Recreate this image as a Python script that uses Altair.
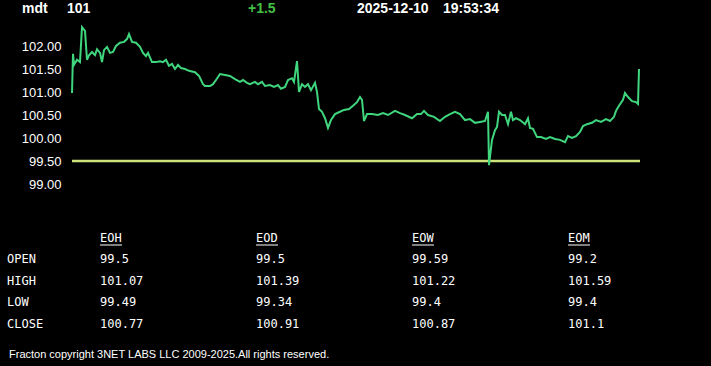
import altair as alt
import pandas as pd

# ---- data ----
t = [0, 1, 2, 5, 8, 10, 13, 15, 17, 20, 23, 25, 28, 30, 32, 35, 38, 41, 44, 48,
     52, 55, 57, 60, 64, 68, 71, 74, 76, 80, 84, 88, 91, 94, 97, 100, 103, 106, 109, 113,
     117, 123, 127, 131, 133, 138, 141, 144, 148, 153, 158, 163, 168, 171, 175, 178, 183, 186, 190, 193,
     198, 202, 206, 209, 213, 216, 220, 222, 225, 227, 230, 233, 236, 239, 243, 245, 247, 250, 253, 256,
     259, 263, 268, 272, 277, 281, 285, 288, 290, 292, 295, 300, 306, 311, 316, 323, 328, 333, 340, 345,
     349, 352, 356, 362, 368, 373, 378, 383, 388, 393, 398, 403, 408, 413, 416, 417, 420, 423, 425, 427,
     430, 433, 436, 439, 441, 444, 448, 453, 456, 458, 461, 465, 469, 474, 478, 483, 488, 493, 496, 500,
     504, 508, 511, 515, 520, 524, 529, 534, 538, 542, 544, 547, 551, 553, 556, 560, 564, 566, 567]
price = [100.98, 101.83, 101.59, 101.70, 101.65, 102.41, 102.33, 101.70, 101.80, 101.87, 101.80, 101.93, 101.85, 101.65, 101.91, 101.98, 101.85, 101.87, 102.00, 102.07,
         102.09, 102.15, 102.26, 102.09, 102.07, 101.98, 101.85, 101.78, 101.85, 101.65, 101.65, 101.67, 101.65, 101.70, 101.57, 101.61, 101.50, 101.59, 101.52, 101.50,
         101.46, 101.43, 101.35, 101.17, 101.13, 101.13, 101.17, 101.26, 101.39, 101.37, 101.35, 101.28, 101.22, 101.26, 101.20, 101.17, 101.22, 101.17, 101.22, 101.13,
         101.15, 101.11, 101.15, 101.07, 101.11, 101.26, 101.30, 101.22, 101.67, 101.00, 101.17, 101.11, 101.17, 101.04, 101.20, 101.00, 100.63, 100.57, 100.43, 100.22,
         100.39, 100.52, 100.57, 100.61, 100.63, 100.70, 100.78, 100.89, 100.83, 100.37, 100.52, 100.52, 100.50, 100.54, 100.50, 100.59, 100.54, 100.50, 100.43, 100.52,
         100.52, 100.59, 100.50, 100.46, 100.37, 100.46, 100.52, 100.57, 100.52, 100.39, 100.41, 100.33, 100.35, 100.37, 100.57, 99.41, 99.96, 100.17, 100.24, 100.57,
         100.50, 100.50, 100.30, 100.57, 100.39, 100.43, 100.39, 100.30, 100.43, 100.22, 100.20, 100.02, 100.02, 99.98, 100.02, 99.98, 99.96, 99.91, 100.04, 100.00,
         100.04, 100.13, 100.26, 100.30, 100.33, 100.39, 100.35, 100.41, 100.37, 100.46, 100.59, 100.70, 100.83, 100.98, 100.89, 100.80, 100.78, 100.74, 101.50]
ref_level = 99.5
ref_span = [0, 568]
y_ticks = [99.0, 99.5, 100.0, 100.5, 101.0, 101.5, 102.0]

header_texts = ["mdt", "101", "+1.5", "2025-12-10", "19:53:34"]
footer_text = "Fracton copyright 3NET LABS LLC 2009-2025.All rights reserved."

col_names = ["EOH", "EOD", "EOW", "EOM"]
row_names = ["OPEN", "HIGH", "LOW", "CLOSE"]
open_vals = ["99.5", "99.5", "99.59", "99.2"]
high_vals = ["101.07", "101.39", "101.22", "101.59"]
low_vals = ["99.49", "99.34", "99.4", "99.4"]
close_vals = ["100.77", "100.91", "100.87", "101.1"]

# ---- layout ----
PL, PT, W, H = 72, 23, 568, 184
header_x = [22, 67, 248, 357, 443]
header_colors = ["white", "white", "#44c044", "white", "white"]
col_x = [100, 256, 412, 568]
row_label_x = 7
head_y = 238
row_y = [259, 281, 302, 324]

LINE = "#3fd67e"
YEL = "#cfe37c"

df = pd.DataFrame({"t": t, "price": price})
ref_df = pd.DataFrame({"t": [ref_span[0]], "t2": [ref_span[1]], "y": [ref_level]})

xs = alt.Scale(domain=[0, 568])
ys = alt.Scale(domain=[98.5, 102.5], zero=False, nice=False)

line = alt.Chart(df).mark_line(color=LINE, strokeWidth=2, clip=False).encode(
    x=alt.X("t:Q", scale=xs, axis=None),
    y=alt.Y("price:Q", scale=ys,
            axis=alt.Axis(values=y_ticks, format=".2f", title=None, domain=False,
                          ticks=False, grid=False, labelColor="white",
                          labelFont="Liberation Sans", labelFontSize=13,
                          labelPadding=11)),
)

rule = alt.Chart(ref_df).mark_rule(color=YEL, strokeWidth=2.5).encode(
    x=alt.X("t:Q", scale=xs, axis=None), x2="t2:Q",
    y=alt.Y("y:Q", scale=ys, axis=None),
)

# header
hdr = pd.DataFrame({"txt": header_texts,
                    "px": [v - PL for v in header_x],
                    "col": header_colors})
header = alt.Chart(hdr).mark_text(align="left", baseline="middle", font="Liberation Sans",
                                  fontSize=14, fontWeight="bold").encode(
    x=alt.X("px:Q", scale=None, axis=None),
    y=alt.value(9 - PT),
    text="txt:N",
    color=alt.Color("col:N", scale=None, legend=None),
)

# table
cells = []
for ci, c in enumerate(col_names):
    cells.append({"txt": c, "px": col_x[ci] - PL, "py": head_y - PT})
for ri, (rn, vals) in enumerate(zip(row_names, [open_vals, high_vals, low_vals, close_vals])):
    cells.append({"txt": rn, "px": row_label_x - PL, "py": row_y[ri] - PT})
    for ci, v in enumerate(vals):
        cells.append({"txt": v, "px": col_x[ci] - PL, "py": row_y[ri] - PT})
cell_df = pd.DataFrame(cells)
table = alt.Chart(cell_df).mark_text(align="left", baseline="middle", font="DejaVu Sans Mono",
                                     fontSize=12, color="white").encode(
    x=alt.X("px:Q", scale=None, axis=None),
    y=alt.Y("py:Q", scale=None, axis=None),
    text="txt:N",
)

ul_df = pd.DataFrame({"px": [v - PL for v in col_x],
                      "px2": [v - PL + 22 for v in col_x],
                      "py": [head_y + 7 - PT] * 4})
underline = alt.Chart(ul_df).mark_rule(color="white", strokeWidth=1).encode(
    x=alt.X("px:Q", scale=None, axis=None),
    x2="px2:Q",
    y=alt.Y("py:Q", scale=None, axis=None),
)

footer = alt.Chart(pd.DataFrame({"txt": [footer_text]})).mark_text(
    align="left", baseline="middle", font="Liberation Sans", fontSize=11, color="white"
).encode(
    x=alt.value(9 - PL),
    y=alt.value(355 - PT),
    text="txt:N",
)

chart = alt.layer(rule, line, header, table, underline, footer).resolve_scale(
    x="independent", y="independent"
).properties(
    width=W, height=H,
    autosize=alt.AutoSizeParams(type="none"),
    padding={"left": PL, "top": PT, "right": 711 - PL - W, "bottom": 366 - PT - H},
).configure(background="black").configure_view(strokeWidth=0)

chart.save("out.html", embed_options={"renderer": "svg", "actions": False})
